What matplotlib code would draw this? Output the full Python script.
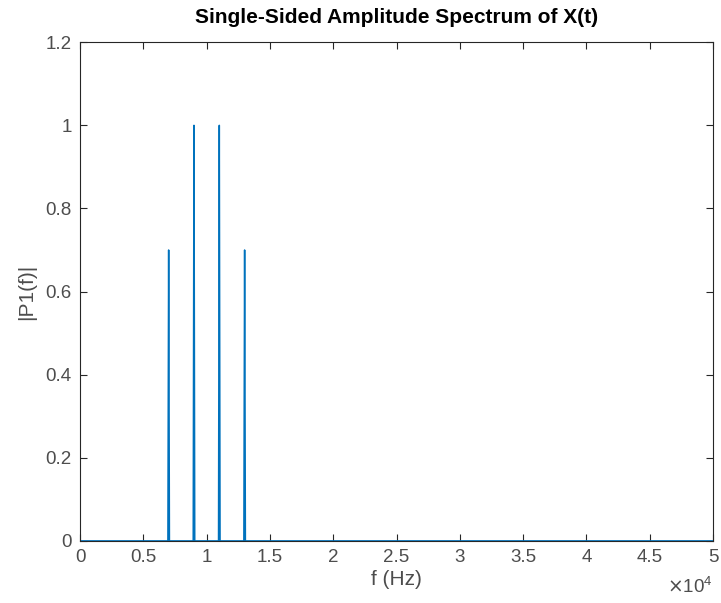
import matplotlib
matplotlib.use("Agg")
import matplotlib.pyplot as plt
from matplotlib.ticker import FuncFormatter

# spectrum peaks
peak_freqs = [7000, 9000, 11000, 13000]
peak_amps = [0.7, 1.0, 1.0, 0.7]
f_max = 50000
half_width = 60  # Hz, spike half-width at the base

x_ticks = [0, 5000, 10000, 15000, 20000, 25000, 30000, 35000, 40000, 45000, 50000]
y_ticks = [0, 0.2, 0.4, 0.6, 0.8, 1.0, 1.2]

# build the line: flat zero with narrow spikes
freq = [0]
amp = [0]
for pf, pa in zip(peak_freqs, peak_amps):
    freq += [pf - half_width, pf, pf + half_width]
    amp += [0, pa, 0]
freq.append(f_max)
amp.append(0)

plt.rcParams['font.family'] = ['Liberation Sans', 'DejaVu Sans']
ax_col = "#4d4d4d"

fig = plt.figure(figsize=(7.21, 6.03), dpi=100)
ax = fig.add_axes([0.111, 0.103, 0.878, 0.827])
ax.plot(freq, amp, color="#0072BD", lw=1.1)

ax.set_xlim(0, f_max)
ax.set_ylim(0, 1.2)
ax.set_xticks(x_ticks)
ax.set_yticks(y_ticks)
ax.xaxis.set_major_formatter(FuncFormatter(lambda v, p: "%g" % (v / 1e4)))
ax.yaxis.set_major_formatter(FuncFormatter(lambda v, p: "%g" % v))
ax.tick_params(direction="in", top=True, right=True, length=5, width=0.8,
               colors="#262626", labelcolor=ax_col, labelsize=13.5, pad=6)
for s in ax.spines.values():
    s.set_color("#262626")
    s.set_linewidth(0.8)

ax.set_title("Single-Sided Amplitude Spectrum of X(t)", fontsize=15,
             fontweight="bold", color="black", pad=14)
ax.set_xlabel("f (Hz)", fontsize=15, color=ax_col, labelpad=3)
ax.set_ylabel("|P1(f)|", fontsize=15, color=ax_col, labelpad=7)
ax.text(1.0, -0.072, r"$\times\mathregular{10^{4}}$", transform=ax.transAxes, ha="right",
        va="top", fontsize=13.5, color=ax_col)

fig.savefig("out.png", dpi=100)
